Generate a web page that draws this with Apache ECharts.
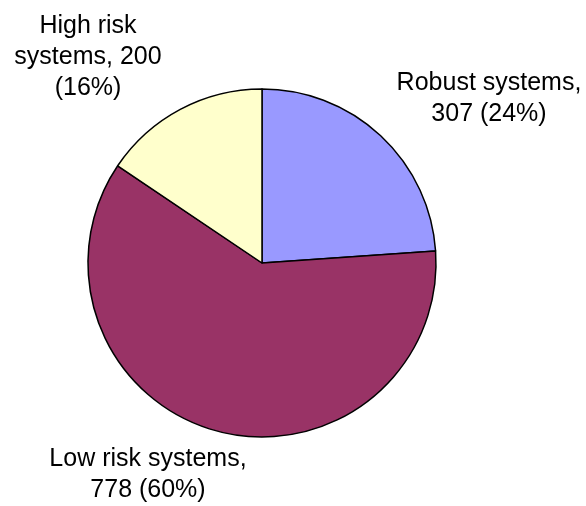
<!DOCTYPE html>
<html>
<head>
<meta charset="utf-8">
<script src="https://cdn.jsdelivr.net/npm/echarts@6/dist/echarts.min.js"></script>
<style>
  html, body { margin: 0; padding: 0; background: #fff; }
  #main { width: 586px; height: 506px; }
</style>
</head>
<body>
<div id="main"></div>
<script>
var names = ['Robust systems', 'Low risk systems', 'High risk systems'];
var values = [307, 778, 200];
var labels = ['Robust systems,\n307 (24%)', 'Low risk systems,\n778 (60%)', 'High risk\nsystems, 200\n(16%)'];
var colors = ['#9999ff', '#993366', '#ffffcc'];

var myChart = echarts.init(document.getElementById('main'));

// centre of each label block
var labelPos = [[489, 99], [148, 475], [88, 57]];

var option = {
    animation: false,
    series: [{
        type: 'pie',
        center: [262, 263],
        radius: 174,
        startAngle: 90,
        clockwise: true,
        data: names.map(function (n, i) {
            return { name: n, value: values[i], itemStyle: { color: colors[i] } };
        }),
        itemStyle: { borderColor: '#000', borderWidth: 1.5 },
        label: {
            show: true,
            position: 'outside',
            formatter: function (p) { return labels[p.dataIndex]; },
            fontFamily: 'Liberation Sans',
            fontSize: 25,
            lineHeight: 31,
            color: '#000',
            align: 'center',
            overflow: 'none',
            edgeDistance: 0
        },
        labelLine: { show: false },
        labelLayout: function (params) {
            var pos = labelPos[params.dataIndex];
            return { x: pos[0], y: pos[1], align: 'center', verticalAlign: 'middle' };
        },
        emphasis: { disabled: true }
    }]
};

myChart.setOption(option);

window.addEventListener('resize', function () {
    myChart.resize();
});
</script>
</body>
</html>
